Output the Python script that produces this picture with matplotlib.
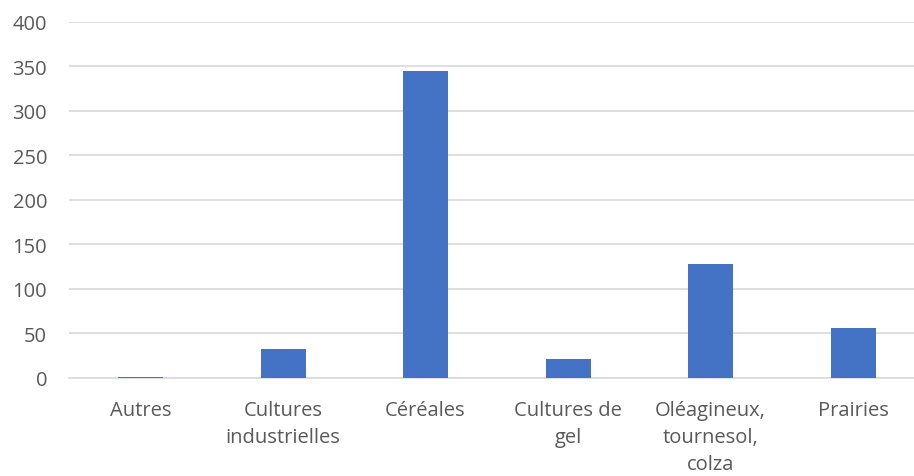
import matplotlib
matplotlib.use("Agg")
import matplotlib.pyplot as plt

categories = ["Autres", "Cultures\nindustrielles", "Céréales", "Cultures de\ngel", "Oléagineux,\ntournesol,\ncolza", "Prairies"]
values = [0.6, 32, 345, 21, 128, 56]
yticks = [0, 50, 100, 150, 200, 250, 300, 350, 400]

plt.rcParams['font.family'] = ['Open Sans', 'DejaVu Sans']
fig = plt.figure(figsize=(9.14, 4.77), dpi=100)
left, right, bottom, top = 69.3, 924.3, 378.5, 23.0
ax = fig.add_axes([left/914, 1-bottom/477, (right-left)/914, (bottom-top)/477])
x = range(len(categories))
ax.bar(x, values, width=0.316, color="#4472C4", zorder=3)
ax.set_ylim(0, 400)
ax.set_xlim(-0.5, len(categories)-0.5)
ax.set_yticks(yticks)
ax.set_xticks(list(x))
ax.set_xticklabels(categories, fontsize=14.5, color="#595959", linespacing=1.48)
ax.tick_params(axis='y', labelsize=14.5, labelcolor="#595959", length=0, pad=16)
ax.tick_params(axis='x', length=0, pad=16)
ax.grid(axis='y', color="#D9D9D9", linewidth=1.2, zorder=0)
for s in ['top', 'right', 'left']:
    ax.spines[s].set_visible(False)
ax.spines['bottom'].set_color("#D9D9D9")
ax.spines['bottom'].set_linewidth(1.2)
fig.savefig("out.png", dpi=100)
